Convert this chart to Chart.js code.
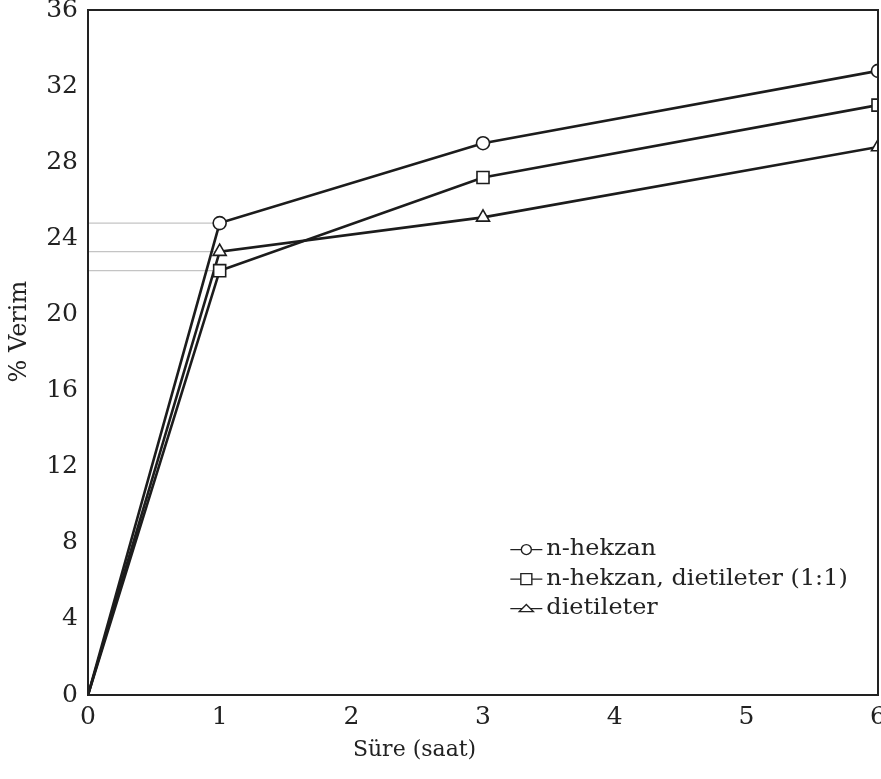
<!DOCTYPE html>
<html>
<head>
<meta charset="utf-8">
<script src="https://cdn.jsdelivr.net/npm/chart.js@4.4.1/dist/chart.umd.min.js"></script>
<style>
html,body{margin:0;padding:0;background:#fff;}
#wrap{width:881px;height:779px;position:relative;}
</style>
</head>
<body>
<div id="wrap"><canvas id="c" width="881" height="779"></canvas></div>
<script>
const hours = [0, 1, 3, 6];
const nHekzan = [0, 24.8, 29.0, 32.8];
const karisim = [0, 22.3, 27.2, 31.0];
const dietileter = [0, 23.3, 25.1, 28.8];
const seriesLabels = ['n-hekzan', 'n-hekzan, dietileter (1:1)', 'dietileter'];
const seriesMarkers = ['circle', 'rect', 'triangle'];
const yTicks = [0, 4, 8, 12, 16, 20, 24, 28, 32, 36];
const xTicks = [0, 1, 2, 3, 4, 5, 6];
const xTitle = 'Süre (saat)';
const yTitle = '% Verim';

const serif = "'DejaVu Serif', 'Liberation Serif', serif";
const ink = '#1c1c1c';
const toPts = arr => hours.map((h, i) => ({x: h, y: arr[i]}));

const series = [nHekzan, karisim, dietileter];
const markerSize = [6.5, 8.5, 7.5];
const datasets = series.map((s, i) => ({
  label: seriesLabels[i],
  data: toPts(s),
  borderColor: ink,
  borderWidth: 2.6,
  pointStyle: seriesMarkers[i],
  pointRadius: hours.map(h => (h === 0 ? 0 : markerSize[i])),
  pointBackgroundColor: '#fff',
  pointBorderColor: ink,
  pointBorderWidth: 1.6,
  tension: 0,
  clip: {left: 0, top: 0, right: 0, bottom: 0},
  order: 1
}));
// light guide lines from the y axis to the 1-hour points
series.forEach((s, i) => {
  datasets.push({
    label: 'guide' + i,
    data: [{x: 0, y: s[1]}, {x: hours[1], y: s[1]}],
    borderColor: '#c4c4c4',
    borderWidth: 1.2,
    pointRadius: 0,
    order: 5
  });
});

const framePlugin = {
  id: 'frame',
  afterDatasetsDraw(chart) {
    const {ctx, chartArea: a} = chart;
    ctx.save();
    ctx.strokeStyle = '#222';
    ctx.lineWidth = 2;
    ctx.strokeRect(a.left, a.top, a.right - a.left, a.bottom - a.top);
    ctx.restore();
  }
};

// axis titles placed like in the original figure (slightly off-centre)
const titlePlugin = {
  id: 'axisTitles',
  afterDraw(chart) {
    const {ctx} = chart;
    const xs = chart.scales.x, ys = chart.scales.y;
    ctx.save();
    ctx.fillStyle = '#222';
    ctx.textAlign = 'center';
    ctx.textBaseline = 'middle';
    ctx.font = "22px " + serif;
    ctx.fillText(xTitle, xs.getPixelForValue(2.48), 750);
    ctx.translate(20, ys.getPixelForValue(19.1));
    ctx.rotate(-Math.PI / 2);
    ctx.font = "24px " + serif;
    ctx.fillText(yTitle, 0, 0);
    ctx.restore();
  }
};

const legendPlugin = {
  id: 'customLegend',
  afterDraw(chart) {
    const {ctx} = chart;
    const xs = chart.scales.x, ys = chart.scales.y;
    const x0 = xs.getPixelForValue(3.2) + 1;
    const y0 = ys.getPixelForValue(7.8) + 3;
    const rowH = 29.5;
    ctx.save();
    ctx.font = "21px " + serif;
    ctx.textBaseline = 'middle';
    seriesLabels.forEach((lab, i) => {
      const y = y0 + i * rowH;
      ctx.strokeStyle = '#222';
      ctx.lineWidth = 1.4;
      ctx.beginPath();
      ctx.moveTo(x0, y); ctx.lineTo(x0 + 32, y); ctx.stroke();
      ctx.fillStyle = '#fff';
      ctx.beginPath();
      const cx = x0 + 16;
      if (i === 0) { ctx.arc(cx, y, 5, 0, Math.PI * 2); }
      else if (i === 1) { ctx.rect(cx - 5.5, y - 5.5, 11, 11); }
      else { ctx.moveTo(cx - 7, y + 3); ctx.lineTo(cx, y - 4); ctx.lineTo(cx + 7, y + 3); ctx.closePath(); }
      ctx.fill(); ctx.stroke();
      ctx.fillStyle = '#222';
      ctx.save();
      ctx.translate(x0 + 36, y);
      ctx.scale(1.14, 1.08);
      ctx.fillText(lab, 0, 0);
      ctx.restore();
    });
    ctx.restore();
  }
};

new Chart(document.getElementById('c'), {
  type: 'line',
  data: {datasets},
  options: {
    responsive: false,
    animation: false,
    devicePixelRatio: 1,
    layout: {autoPadding: false, padding: {top: 10, right: 3, left: 0, bottom: 0}},
    plugins: {legend: {display: false}, tooltip: {enabled: false}},
    scales: {
      x: {
        type: 'linear', min: 0, max: 6,
        grid: {display: false, drawTicks: false},
        border: {display: true, color: '#222', width: 2},
        afterBuildTicks: s => { s.ticks = xTicks.map(v => ({value: v})); },
        afterFit: s => { s.height = 84; s.paddingLeft = 0; s.paddingRight = 0; },
        ticks: {color: '#222', font: {family: serif, size: 25}, padding: 7, maxRotation: 0},
        title: {display: false, text: xTitle}
      },
      y: {
        type: 'linear', min: 0, max: 36,
        grid: {display: false, drawTicks: false},
        border: {display: true, color: '#222', width: 2},
        afterBuildTicks: s => { s.ticks = yTicks.map(v => ({value: v})); },
        afterFit: s => { s.width = 88; s.paddingTop = 0; s.paddingBottom = 0; },
        ticks: {color: '#222', font: {family: serif, size: 25}, padding: 10},
        title: {display: false, text: yTitle}
      }
    }
  },
  plugins: [framePlugin, titlePlugin, legendPlugin]
});
</script>
</body>
</html>
